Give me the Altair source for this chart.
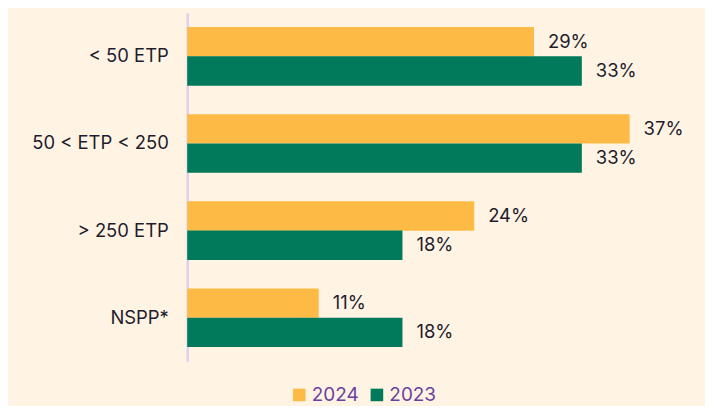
import altair as alt
import pandas as pd

categories = ["< 50 ETP", "50 < ETP < 250", "> 250 ETP", "NSPP*"]
values_2024 = [29, 37, 24, 11]
values_2023 = [33, 33, 18, 18]
series = ["2024", "2023"]
colors = ["#FDBB45", "#007A5A"]

rows = []
for c, a, b in zip(categories, values_2024, values_2023):
    rows.append({"cat": c, "year": "2024", "v": a, "label": f"{a}%"})
    rows.append({"cat": c, "year": "2023", "v": b, "label": f"{b}%"})
df = pd.DataFrame(rows)

y = alt.Y("cat:N", sort=categories, title=None,
          scale=alt.Scale(paddingInner=0.33, paddingOuter=0.165),
          axis=alt.Axis(labelFontSize=18.5, labelColor="#1F1C2E", labelFont="Inter",
                        ticks=False, labelPadding=19, minExtent=180, maxExtent=200,
                        domainColor="#DDD0EE", domainWidth=2.5))
yo = alt.YOffset("year:N", sort=series)
x = alt.X("v:Q", title=None, scale=alt.Scale(domain=[0, 43.3], nice=False),
          axis=None)

bars = alt.Chart(df).mark_bar(size=29.5).encode(
    x=x, y=y, yOffset=yo,
    color=alt.Color("year:N", sort=series,
                    scale=alt.Scale(domain=series, range=colors),
                    legend=alt.Legend(title=None, orient="none", legendX=103, legendY=374,
                                      direction="horizontal",
                                      symbolType="square", symbolSize=160,
                                      symbolStrokeWidth=0,
                                      labelFontSize=19, labelColor="#6B3FA0",
                                      labelFont="Inter", columnPadding=8,
                                      labelOffset=3)),
)

text = alt.Chart(df).mark_text(align="left", dx=14, fontSize=18.5, font="Inter",
                               color="#1F1C2E").encode(
    x=x, y=y, yOffset=yo, text="label:N")

chart = (bars + text).properties(
    width=520, height=350, background="#FFF4E3",
    padding={"left": 0, "top": 4, "right": 0, "bottom": 0},
).configure_view(stroke=None)

chart.save("out.html", embed_options={"renderer": "svg", "actions": False})
